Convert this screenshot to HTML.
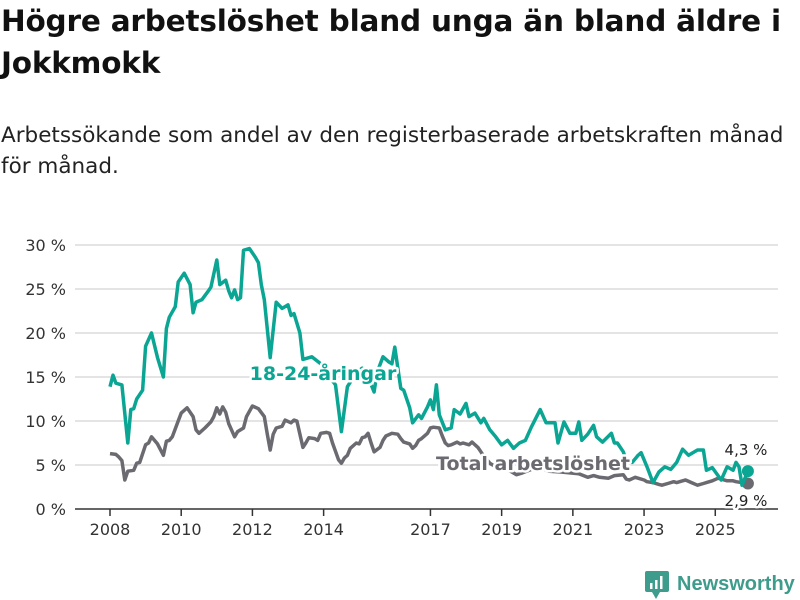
<!DOCTYPE html>
<html><head><meta charset="utf-8"><style>
body{margin:0;background:#fff;font-family:"Liberation Sans","DejaVu Sans",sans-serif}
#wrap{position:relative;width:800px;height:600px;overflow:hidden}
h1{position:absolute;left:1px;top:0px;margin:0;font-family:"DejaVu Sans",sans-serif;font-size:29.5px;line-height:42px;font-weight:bold;color:#111;letter-spacing:-0.2px;width:800px}
.sub{position:absolute;left:1px;top:120px;margin:0;font-family:"DejaVu Sans",sans-serif;font-size:21.5px;line-height:31px;color:#222;width:800px}
svg{position:absolute;left:0;top:0}
</style></head><body>
<div id="wrap">
<h1>Högre arbetslöshet bland unga än bland äldre i Jokkmokk</h1>
<p class="sub">Arbetssökande som andel av den registerbaserade arbetskraften månad för månad.</p>
<svg id="chart" width="800" height="600"></svg>
</div>
<script>
const yTicks=[0,5,10,15,20,25,30];
const yearTicks=[2008,2010,2012,2014,2017,2019,2021,2023,2025];
const youthMonths=[0,1,2,4,6,7,8,9,11,12,14,16,18,19,20,22,23,25,27,28,29,31,33,34,36,37,39,40,41,42,43,44,45,47,49,50,51,52,54,56,58,59,60,61,62,64,65,68,71,73,76,78,80,83,85,87,89,90,92,94,95,96,98,99,101,102,104,105,107,108,109,110,111,113,115,116,118,120,121,123,125,126,128,130,132,134,136,138,140,142,145,147,150,151,153,155,157,158,159,161,163,164,166,169,170,171,173,174,176,178,179,181,183,185,187,189,191,193,195,198,200,201,203,206,208,210,211,212,213,215];
const youthValues=[13.9,15.2,14.3,14.1,7.5,11.3,11.4,12.5,13.5,18.5,20,17.2,15,20.5,21.8,23,25.8,26.8,25.5,22.3,23.5,23.8,24.7,25.2,28.3,25.5,26,24.8,24,24.9,23.8,24,29.4,29.6,28.6,28,25.5,23.8,17.2,23.5,22.8,23,23.2,22,22.2,20,17,17.3,16.5,15.5,14.1,8.8,13.9,15.5,16,15,13.3,15.5,17.3,16.7,16.5,18.4,13.7,13.5,11.5,9.8,10.7,10.3,11.6,12.4,11.3,14.1,10.7,9,9.2,11.3,10.8,12,10.5,10.9,9.8,10.3,9,8.2,7.3,7.8,6.9,7.5,7.8,9.3,11.3,9.8,9.8,7.5,9.9,8.6,8.6,9.9,7.8,8.5,9.5,8.2,7.6,8.6,7.5,7.5,6.5,5.5,5.3,6.1,6.4,4.8,3,4.2,4.8,4.5,5.3,6.8,6.1,6.7,6.7,4.4,4.7,3.3,4.8,4.4,5.3,4.8,2.7,4.3];
const totalMonths=[0,2,3,4,5,6,8,9,10,12,13,14,16,18,19,20,21,23,24,26,28,29,30,32,34,35,36,37,38,39,40,42,43,45,46,48,50,52,53,54,55,56,58,59,61,62,63,64,65,66,67,69,70,71,73,74,75,77,78,79,80,81,83,84,85,86,87,88,89,91,92,93,95,97,98,99,101,102,103,104,105,107,108,109,111,112,113,114,115,117,118,119,121,122,124,125,126,128,130,132,135,137,139,142,145,148,152,155,158,161,163,165,168,170,173,174,175,177,178,180,181,183,185,186,188,190,191,193,194,196,198,200,201,203,205,206,208,210,211,213,215];
const totalValues=[6.3,6.2,5.9,5.5,3.3,4.3,4.4,5.2,5.3,7.3,7.5,8.2,7.4,6.1,7.7,7.8,8.2,10,10.9,11.5,10.5,9,8.6,9.2,9.9,10.5,11.5,10.8,11.6,11,9.7,8.2,8.8,9.2,10.5,11.7,11.4,10.5,8.5,6.7,8.5,9.2,9.4,10.1,9.8,10.1,10,8.5,7,7.5,8.1,8,7.8,8.6,8.7,8.6,7.5,5.6,5.2,5.8,6.1,6.9,7.5,7.4,8.1,8.2,8.6,7.5,6.5,7,7.8,8.3,8.6,8.5,8,7.6,7.4,6.9,7.2,7.8,8,8.6,9.2,9.3,9.2,8.3,7.5,7.2,7.3,7.6,7.4,7.5,7.3,7.6,7,6.5,6,5.2,4.8,4.7,4.3,3.9,4.1,4.5,4.7,4.3,4.2,4.1,4,3.6,3.8,3.6,3.5,3.8,3.9,3.4,3.3,3.6,3.5,3.3,3.1,3,2.8,2.7,2.9,3.1,3,3.2,3.3,3,2.7,2.9,3,3.2,3.5,3.4,3.2,3.2,3.1,3,2.9];

const NS='http://www.w3.org/2000/svg';
const svg=document.getElementById('chart');
const X0=75,X1=778,Y0=509;
const xScale=m=>110+m*2.967;
const yScale=v=>Y0-v*8.8;
function el(tag,attrs,parent){const e=document.createElementNS(NS,tag);for(const k in attrs)e.setAttribute(k,attrs[k]);(parent||svg).appendChild(e);return e;}

yTicks.forEach(t=>{
  if(t>0){const g=el('line',{x1:X0,x2:X1,y1:yScale(t),y2:yScale(t),stroke:'#dcdcdc','stroke-width':1.5});
  
  }
  const tx=el('text',{x:66,y:yScale(t)+6,'text-anchor':'end','font-size':16,fill:'#333','font-family':'"DejaVu Sans",sans-serif'});
  tx.textContent=t+' %';
  
  
});
const base=el('line',{x1:X0,x2:X1,y1:Y0,y2:Y0,stroke:'#333','stroke-width':1.5});


yearTicks.forEach(yr=>{
  const x=xScale((yr-2008)*12);
  const tk=el('line',{x1:x,x2:x,y1:Y0,y2:Y0+7,stroke:'#333','stroke-width':1.5});
  
  
  const tx=el('text',{x:x,y:535,'text-anchor':'middle','font-size':16,fill:'#333','font-family':'"DejaVu Sans",sans-serif'});
  tx.textContent=yr;
  
  
});
function series(ms,vs,color,name){
  const d=ms.map((m,i)=>(i?'L':'M')+xScale(m).toFixed(1)+','+yScale(vs[i]).toFixed(1)).join('');
  const p=el('path',{d:d,fill:'none',stroke:color,'stroke-width':3.5,'stroke-linejoin':'round'});
  
  
  const n=ms.length-1;
  const c=el('circle',{cx:xScale(ms[n]),cy:yScale(vs[n]),r:6,fill:color});
  
  
}
series(totalMonths,totalValues,'#6b6a70','total');
series(youthMonths,youthValues,'#0aa593','youth');
function label(txt,x,y,color,size,weight,anchor,name){
  const t=el('text',{x:x,y:y,'text-anchor':anchor,'font-size':size,'font-weight':weight,fill:color,stroke:'#fff','stroke-width':5,'paint-order':'stroke','stroke-linejoin':'round','font-family':'"DejaVu Sans",sans-serif'});
  t.textContent=txt;
  
  
}
label('18-24-åringar',323,380,'#0aa593',19,'bold','middle','youth-series-label');
label('Total arbetslöshet',533,470,'#6b6a70',19,'bold','middle','total-series-label');
label('4,3 %',746,455,'#222',15,'normal','middle','youth-last-value');
label('2,9 %',746,506,'#222',15,'normal','middle','total-last-value');
</script>
<svg width="800" height="600" style="pointer-events:none">
<rect x="645" y="571" width="24" height="21" rx="2" fill="#3d9c8c"/>
<path d="M652,592 L656,599 L660,592Z" fill="#3d9c8c"/>
<rect x="650" y="583" width="2.5" height="6" fill="#fff"/><rect x="655" y="580" width="2.5" height="9" fill="#fff"/><rect x="660" y="576" width="2.5" height="13" fill="#fff"/>
<text x="677" y="590" font-family="Liberation Sans,sans-serif" font-size="20" font-weight="bold" fill="#3d9c8c">Newsworthy</text>
</svg>
</body></html>
